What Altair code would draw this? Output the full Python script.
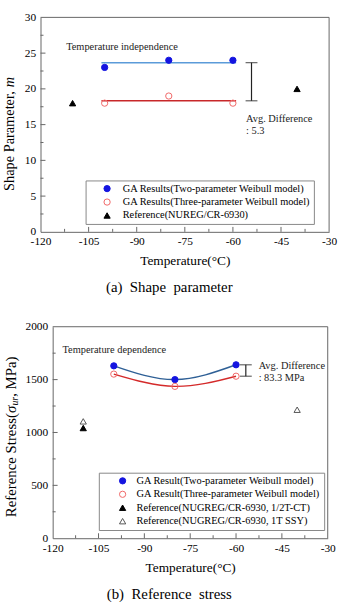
import altair as alt
import pandas as pd

FONT = "Liberation Serif"
AXIS = "#666666"

# Test temperatures (°C) of the GA estimates
TEMPS = [-100, -80, -60]

# (a) Weibull shape parameter m
M_TWO = [23, 24, 24]
M_THREE = [18, 19, 18]
M_REF_TEMPS = [-110, -40]
M_REF = [18, 20]

# (b) Reference stress (MPa)
S_TWO = [1630, 1500, 1640]
S_THREE = [1552, 1436, 1532]
S_CT_TEMPS = [-110]
S_CT = [1042]
S_SSY_TEMPS = [-110, -40]
S_SSY = [1105, 1215]

SERIES_A = [
    "GA Results(Two-parameter Weibull model)",
    "GA Results(Three-parameter Weibull model)",
    "Reference(NUREG/CR-6930)",
]
SERIES_B = [
    "GA Result(Two-parameter Weibull model)",
    "GA Result(Three-parameter Weibull model)",
    "Reference(NUGREG/CR-6930, 1/2T-CT)",
    "Reference(NUGREG/CR-6930, 1T SSY)",
]

X_DOMAIN = [-120, -30]
X_TICKS = [-120, -105, -90, -75, -60, -45, -30]
X_MINOR = [-112.5, -97.5, -82.5, -67.5, -52.5, -37.5]
M_DOMAIN = [0, 30]
M_TICKS = [0, 5, 10, 15, 20, 25, 30]
M_MINOR = [2.5, 7.5, 12.5, 17.5, 22.5, 27.5]
S_DOMAIN = [0, 2000]
S_TICKS = [0, 500, 1000, 1500, 2000]
S_MINOR = [250, 750, 1250, 1750]

BLUE_PT = "#1414e0"
RED_PT = "#f06868"

# panel (a): plot area width/height; panel (b): the view is wider than its
# plot area, which starts INSET_B pixels to the right of the view's origin
W_A, H_A = 292, 217
W_B, H_B = 290.6, 214
INSET_B = 12.3


def x_enc(inset, width):
    return alt.X(
        "t:Q",
        scale=alt.Scale(domain=X_DOMAIN, range=[inset, width], nice=False, zero=False),
        axis=alt.Axis(
            values=X_TICKS, ticks=False, grid=False, labelFlush=False,
            labelExpr="toString(datum.value)", labelFont=FONT, labelFontSize=11.5,
            labelColor="black", labelPadding=4, domainColor=AXIS,
            title="Temperature(°C)", titleFont=FONT, titleFontSize=13.5,
            titleFontWeight="normal", titleColor="black", titlePadding=7,
        ),
    )


def y_enc(domain, ticks, inset):
    return alt.Y(
        "v:Q",
        scale=alt.Scale(domain=domain, nice=False, zero=False),
        axis=alt.Axis(
            values=ticks, ticks=False, grid=False, labelExpr="toString(datum.value)",
            labelFont=FONT, labelFontSize=11.5, labelColor="black", labelPadding=5,
            domainColor=AXIS, title=None, offset=-inset,
        ),
    )


def frame(y_top, X, Y):
    # top and right borders of the plot area, drawn along the domain ends
    top_edge = alt.Chart(pd.DataFrame({"t": [X_DOMAIN[0]], "t2": [X_DOMAIN[1]], "v": [y_top]})).mark_rule(
        color=AXIS).encode(x=X, x2="t2:Q", y=Y)
    right_edge = alt.Chart(pd.DataFrame({"t": [X_DOMAIN[1]], "v": [0], "v2": [y_top]})).mark_rule(
        color=AXIS).encode(x=X, y=Y, y2="v2:Q")
    return top_edge + right_edge


def x_tick_rules(vals, length, h, X):
    return alt.Chart(pd.DataFrame({"t": vals})).mark_rule(color=AXIS).encode(
        x=X, y=alt.value(h), y2=alt.value(h - length)
    )


def y_tick_rules(vals, length, inset, Y):
    return alt.Chart(pd.DataFrame({"v": vals})).mark_rule(color=AXIS).encode(
        y=Y, x=alt.value(inset), x2=alt.value(inset + length)
    )


def vtext(text, x, y, size, italic=False):
    # piece of a rotated axis title, reading bottom to top from (x, y)
    return alt.Chart(pd.DataFrame({"s": [text]})).mark_text(
        angle=270, align="left", baseline="middle", font=FONT, fontSize=size,
        fontStyle="italic" if italic else "normal", color="black",
    ).encode(text="s:N", x=alt.value(x), y=alt.value(y))


def caption(text, x, y):
    return alt.Chart(pd.DataFrame({"s": [text]})).mark_text(
        align="center", baseline="middle", font=FONT, fontSize=15, color="black"
    ).encode(text="s:N", x=alt.value(x), y=alt.value(y))


def note(text, t, v, X, Y):
    return alt.Chart(pd.DataFrame({"t": [t], "v": [v], "s": [text]})).mark_text(
        align="left", baseline="middle", font=FONT, fontSize=10.5, color="#222222"
    ).encode(x=X, y=Y, text="s:N")


def diff_bar(t, lo, hi, X, Y):
    bar = alt.Chart(pd.DataFrame({"t": [t], "v": [lo], "v2": [hi]})).mark_rule(
        color="#222222", strokeWidth=1.2
    ).encode(x=X, y=Y, y2="v2:Q")
    caps = alt.Chart(pd.DataFrame({"t": [t, t], "v": [lo, hi]})).mark_tick(
        orient="horizontal", size=12, thickness=1.2, color="#222222"
    ).encode(x=X, y=Y)
    return bar + caps


def points(df, field, domain, strokes, fills, shapes, lx, ly, sym_off, lab_off, tail, X, Y):
    leg = alt.Legend(
        title=None, orient="none", legendX=lx, legendY=ly, direction="vertical",
        padding=3, rowPadding=2.6, symbolOffset=sym_off, labelOffset=lab_off,
        strokeColor="#888888", fillColor="white", labelFont=FONT,
        labelFontSize=10.5, labelColor="black", symbolSize=40, symbolStrokeWidth=1,
        labelLimit=400, labelExpr="datum.label + '" + " " * tail + "'",
    )
    return alt.Chart(df).mark_point(size=40, strokeWidth=1, opacity=1, fillOpacity=1).encode(
        x=X, y=Y,
        shape=alt.Shape(f"{field}:N", scale=alt.Scale(domain=domain, range=shapes), legend=leg),
        stroke=alt.Stroke(f"{field}:N", scale=alt.Scale(domain=domain, range=strokes), legend=leg),
        fill=alt.Fill(f"{field}:N", scale=alt.Scale(domain=domain, range=fills), legend=leg),
    )


# ---------- (a) shape parameter ----------
XA = x_enc(0, W_A)
YA = y_enc(M_DOMAIN, M_TICKS, 0)

mean_two = sum(M_TWO) / len(M_TWO)
mean_three = sum(M_THREE) / len(M_THREE)
span = [min(TEMPS) - 1, max(TEMPS) + 1]

pts_a = pd.DataFrame({
    "series_a": [SERIES_A[0]] * len(TEMPS) + [SERIES_A[1]] * len(TEMPS) + [SERIES_A[2]] * len(M_REF_TEMPS),
    "t": TEMPS + TEMPS + M_REF_TEMPS,
    "v": M_TWO + M_THREE + M_REF,
})

line_two_a = alt.Chart(pd.DataFrame({"t": span, "v": [mean_two] * 2})).mark_line(
    color="#5b9bd9", strokeWidth=1.5).encode(x=XA, y=YA)
line_three_a = alt.Chart(pd.DataFrame({"t": span, "v": [mean_three] * 2})).mark_line(
    color="#c8282a", strokeWidth=1.5).encode(x=XA, y=YA)

top = alt.layer(
    frame(M_DOMAIN[1], XA, YA),
    x_tick_rules(X_TICKS[1:-1], 5, H_A, XA),
    x_tick_rules(X_MINOR, 3, H_A, XA),
    y_tick_rules(M_TICKS[1:-1], 5, 0, YA),
    y_tick_rules(M_MINOR, 3, 0, YA),
    line_two_a,
    line_three_a,
    diff_bar(-54.2, mean_three, mean_two, XA, YA),
    points(pts_a, "series_a", SERIES_A, [BLUE_PT, RED_PT, "black"],
           [BLUE_PT, "transparent", "black"], ["circle", "circle", "triangle-up"],
           45.6, 165, 13.5, 10.5, 4, XA, YA),
    note("Temperature independence", -112, 25.9, XA, YA),
    note("Avg. Difference", -55.9, 15.8, XA, YA),
    note(": 5.3", -55.9, 14.1, XA, YA),
    vtext("Shape Parameter, ", -30.7, 175.6, 14.5),
    vtext("m", -30.7, 70.6, 14.5, italic=True),
    caption("(a)\u00a0 Shape\u00a0 parameter", 130.3, 273.3),
).properties(width=W_A, height=H_A)

# ---------- (b) reference stress ----------
XB = x_enc(INSET_B, W_B)
YB = y_enc(S_DOMAIN, S_TICKS, INSET_B)

pts_b = pd.DataFrame({
    "series_b": [SERIES_B[0]] * len(TEMPS) + [SERIES_B[1]] * len(TEMPS)
    + [SERIES_B[2]] * len(S_CT_TEMPS) + [SERIES_B[3]] * len(S_SSY_TEMPS),
    "t": TEMPS + TEMPS + S_CT_TEMPS + S_SSY_TEMPS,
    "v": S_TWO + S_THREE + S_CT + S_SSY,
})

curve_two = alt.Chart(pd.DataFrame({"t": TEMPS, "v": S_TWO})).mark_line(
    color="#2f6096", strokeWidth=1.5, interpolate="natural").encode(x=XB, y=YB)
curve_three = alt.Chart(pd.DataFrame({"t": TEMPS, "v": S_THREE})).mark_line(
    color="#d42a2a", strokeWidth=1.5, interpolate="natural").encode(x=XB, y=YB)

bottom = alt.layer(
    frame(S_DOMAIN[1], XB, YB),
    x_tick_rules(X_TICKS[1:-1], 5, H_B, XB),
    x_tick_rules(X_MINOR, 3, H_B, XB),
    y_tick_rules(S_TICKS[1:-1], 5, INSET_B, YB),
    y_tick_rules(S_MINOR, 3, INSET_B, YB),
    curve_two,
    curve_three,
    diff_bar(-56.8, S_THREE[-1], S_TWO[-1], XB, YB),
    points(pts_b, "series_b", SERIES_B, [BLUE_PT, RED_PT, "black", "#555555"],
           [BLUE_PT, "transparent", "black", "transparent"],
           ["circle", "circle", "triangle-up", "triangle-up"],
           59.0, 147.7, 15.8, 8.8, 2, XB, YB),
    note("Temperature dependence", -116.8, 1782, XB, YB),
    note("Avg. Difference", -52.6, 1632, XB, YB),
    note(": 83.3 MPa", -52.6, 1514, XB, YB),
    vtext("Reference Stress(", -30.2, 192.7, 15),
    vtext("σ", -30.2, 87.3, 15, italic=True),
    vtext("ur", -26.2, 79.8, 10, italic=True),
    vtext(", MPa)", -30.2, 70.9, 15),
    caption("(b)\u00a0 Reference\u00a0 stress", 130.3, 270.7),
).properties(width=W_B, height=H_B)

chart = (
    alt.concat(top, bottom, columns=1, spacing=24)
    .resolve_scale(x="independent", y="independent", shape="independent",
                   fill="independent", stroke="independent")
    .resolve_legend(shape="independent", fill="independent", stroke="independent")
    .properties(padding={"left": 1, "top": 7, "right": 0, "bottom": 0}, background="white")
    .configure_view(stroke="transparent")
    .configure_axis(labelFont=FONT, titleFont=FONT, titleFontWeight="normal")
)

chart.save("out.html", embed_options={"renderer": "svg", "actions": False})
